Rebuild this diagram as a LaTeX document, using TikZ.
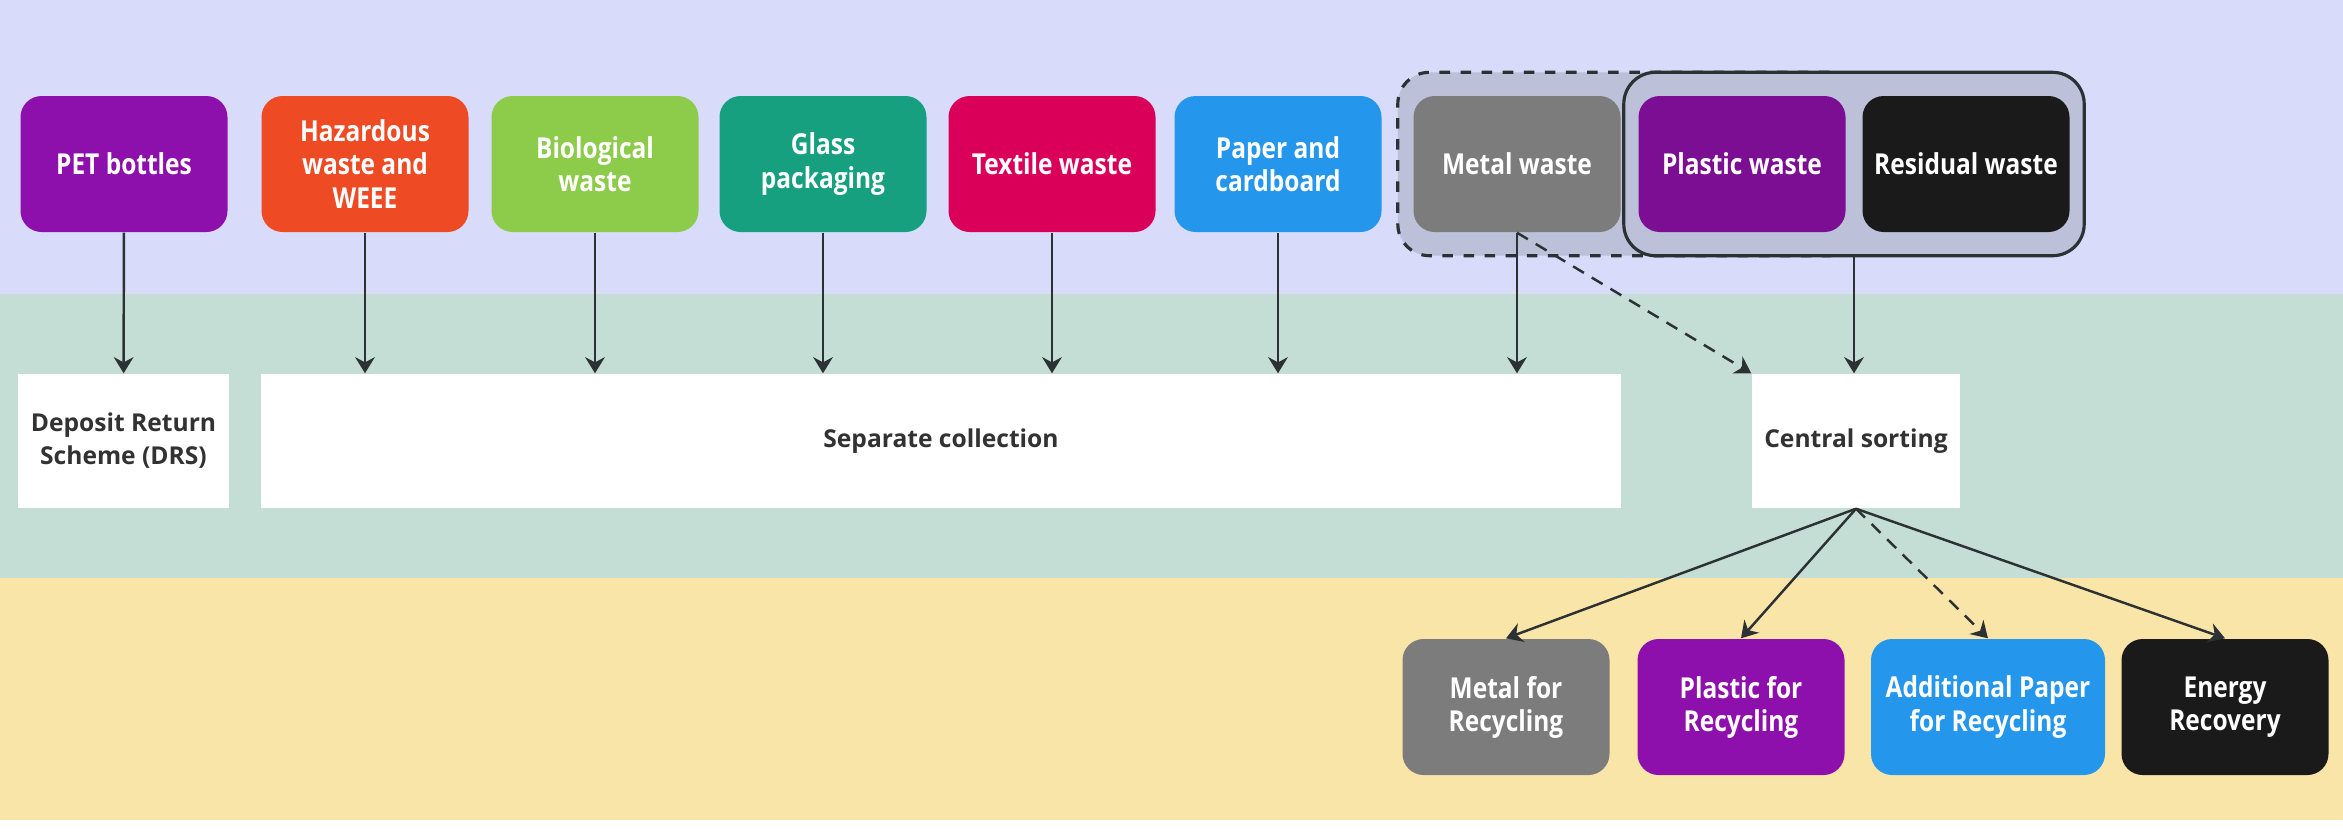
\documentclass[tikz,border=0pt]{standalone}
\usepackage{fontspec}
\setmainfont{Open Sans}
\newfontfamily\boxfont[FakeStretch=0.85]{Open Sans}
\usetikzlibrary{positioning, arrows.meta, fit, backgrounds}

\definecolor{bandtop}{RGB}{216,220,250}
\definecolor{bandmid}{RGB}{196,222,214}
\definecolor{bandbot}{RGB}{250,229,168}
\definecolor{petcol}{RGB}{142,16,172}
\definecolor{hazcol}{RGB}{238,74,36}
\definecolor{biocol}{RGB}{140,204,74}
\definecolor{glasscol}{RGB}{22,160,128}
\definecolor{textilecol}{RGB}{218,0,90}
\definecolor{papercol}{RGB}{36,150,236}
\definecolor{metalcol}{RGB}{124,124,124}
\definecolor{plasticcol}{RGB}{124,14,148}
\definecolor{residualcol}{RGB}{26,26,26}
\definecolor{groupcol}{RGB}{188,192,216}
\definecolor{linecol}{RGB}{44,50,52}
\definecolor{textcol}{RGB}{50,50,50}

\begin{document}
\begin{tikzpicture}[
    wastebox/.style={rounded corners=6pt, minimum width=2.07cm, minimum height=1.36cm,
        inner sep=1pt, align=center, text=white,
        font=\boxfont\bfseries\fontsize{8.2}{9.4}\selectfont},
    whitebox/.style={fill=white, minimum height=1.34cm, inner sep=1pt, align=center,
        text=textcol, font=\bfseries\fontsize{7}{9.4}\selectfont},
    groupbox/.style={rounded corners=9pt, fill=groupcol, draw=linecol, line width=0.9pt,
        inner xsep=0.14cm, inner ysep=0.23cm},
    arrow/.style={-{Stealth[length=4.6pt, width=5.6pt]}, draw=linecol, line width=0.7pt},
    dasharrow/.style={arrow, dash pattern=on 3.6pt off 2.6pt}
]
    \useasboundingbox (0,0) rectangle (23.43,-8.36);

    % 1. 三个背景色带
    \begin{scope}[on background layer]
        \fill[white] (0,0) rectangle (23.43,-8.36);
        \fill[bandtop] (0,0) rectangle (23.43,-2.94);
        \fill[bandmid] (0,-2.94) rectangle (23.43,-5.78);
        \fill[bandbot] (0,-5.78) rectangle (23.43,-8.20);
    \end{scope}

    % 2. 垃圾种类 (第一行)
    \node[wastebox, fill=petcol] (pet) at (1.24,-1.64) {PET bottles};
    \node[wastebox, fill=hazcol] (haz) at (3.65,-1.64) {Hazardous\\waste and\\WEEE};
    \node[wastebox, fill=biocol] (bio) at (5.95,-1.64) {Biological\\waste};
    \node[wastebox, fill=glasscol] (glass) at (8.23,-1.64) {Glass\\packaging};
    \node[wastebox, fill=textilecol] (textile) at (10.52,-1.64) {Textile waste};
    \node[wastebox, fill=papercol] (paper) at (12.78,-1.64) {Paper and\\cardboard};
    \node[wastebox, fill=metalcol] (metal) at (15.17,-1.64) {Metal waste};
    \node[wastebox, fill=plasticcol] (plastic) at (17.42,-1.64) {Plastic waste};
    \node[wastebox, fill=residualcol] (residual) at (19.66,-1.64) {Residual waste};

    % 分组框 (虚线: 金属, 实线: 塑料+残余)
    \begin{scope}[on background layer]
        \node[groupbox, dashed, inner xsep=0.15cm, fit=(metal)(plastic)] (metalgrp) {};
        \node[groupbox, fit=(plastic)(residual)] (mixgrp) {};
    \end{scope}

    % 3. 收集方式 (第二行)
    \node[whitebox, minimum width=2.11cm] (drs) at (1.235,-4.41) {Deposit Return\\Scheme (DRS)};
    \node[whitebox, minimum width=13.60cm] (sep) at (9.41,-4.41) {Separate collection};
    \node[whitebox, minimum width=2.08cm] (central) at (18.56,-4.41) {Central sorting};

    % 连接线
    \draw[arrow] (pet) -- (drs);
    \foreach \n in {haz, bio, glass, textile, paper, metal}
        \draw[arrow] (\n.south) -- (\n.south |- sep.north);
    \draw[arrow] (mixgrp.south) -- (mixgrp.south |- central.north);
    \draw[dasharrow] (metal.south) -- (central.north west);

    % 4. 分拣结果 (第三行)
    \node[wastebox, fill=metalcol] (metalrec) at (15.06,-7.07) {Metal for\\Recycling};
    \node[wastebox, fill=petcol] (plasticrec) at (17.41,-7.07) {Plastic for\\Recycling};
    \node[wastebox, fill=papercol, minimum width=2.34cm] (paperrec) at (19.88,-7.07) {Additional Paper\\for Recycling};
    \node[wastebox, fill=residualcol] (energy) at (22.25,-7.07) {Energy\\Recovery};

    \foreach \n in {metalrec, plasticrec, energy}
        \draw[arrow] (central.south) -- (\n.north);
    \draw[dasharrow] (central.south) -- (paperrec.north);

\end{tikzpicture}
\end{document}
